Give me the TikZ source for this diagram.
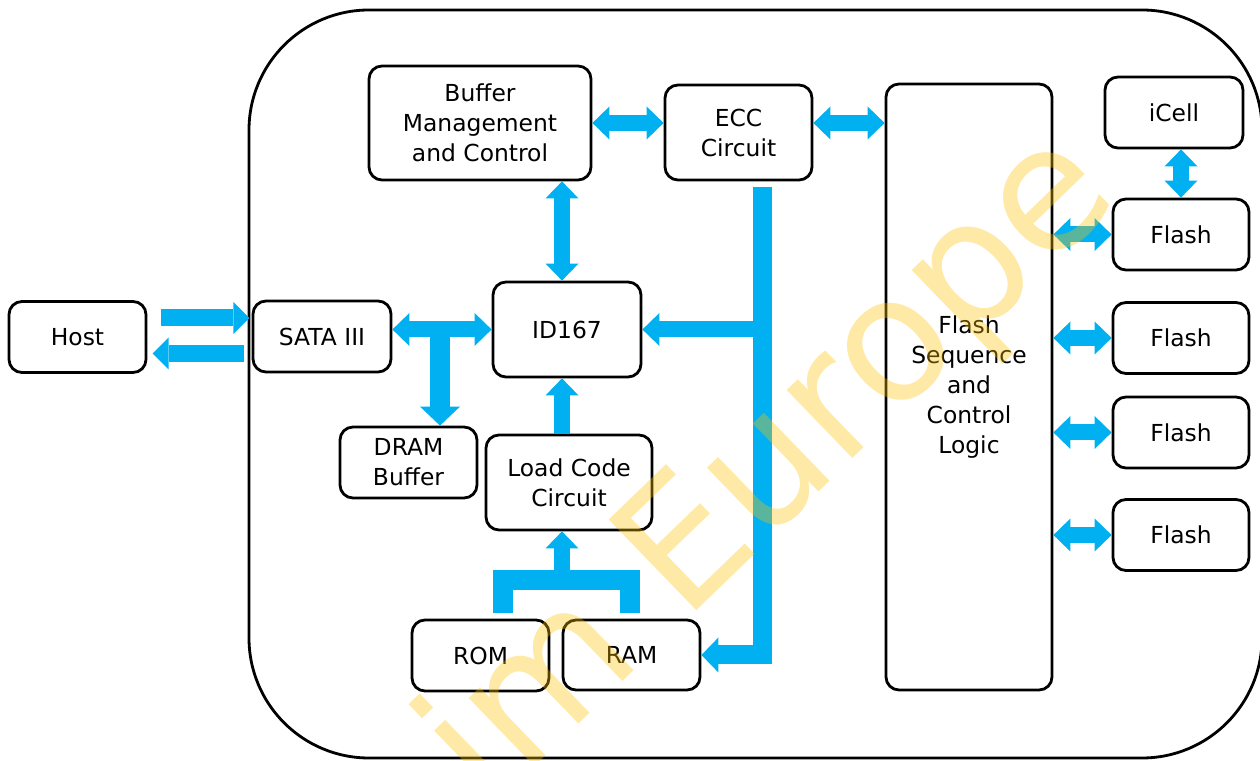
\documentclass[tikz,border=0pt]{standalone}
\usepackage{fontspec}
\setmainfont{DejaVu Sans}
\usetikzlibrary{positioning,arrows.meta}

\definecolor{busblue}{RGB}{0,176,240}
\definecolor{wmark}{RGB}{255,192,0}

\tikzset{
    blk/.style={draw, line width=2.8pt, rounded corners=13pt, align=center, inner sep=0pt},
    small/.style={blk, minimum width=137pt, minimum height=71pt},
    fat/.style={draw=busblue, line width=16pt},
}

\begin{document}
\begin{tikzpicture}[x=1pt, y=1pt, >={Triangle[length=17pt,width=33pt,line width=0pt]},
    font=\fontsize{23.4}{30}\selectfont]
    \useasboundingbox (0,0) rectangle (1260,760);
    \clip (0,0) rectangle (1260,760);

    % drive board
    \draw[line width=2.8pt, rounded corners=120pt] (249,2) rectangle (1262,750);

    \node[small] (host) at (77.5,423) {Host};
    \node[small, minimum width=138pt] (sata) at (322,423.5) {SATA III};
    \node[blk, minimum width=222pt, minimum height=114pt] (buf) at (480,637) {Buffer\\Management\\and Control};
    \node[blk, minimum width=147pt, minimum height=95pt] (ecc) at (738.5,627.5) {ECC\\Circuit};
    \node[blk, minimum width=166pt, minimum height=606pt] (fscl) at (969,373) {Flash\\Sequence\\and\\Control\\Logic};
    \node[small, minimum width=138pt] (icell) at (1174,647.5) {iCell};
    \node[blk, minimum width=148pt, minimum height=95pt] (id) at (567,430.5) {ID167};
    \node[small] (dram) at (408.5,297.5) {DRAM\\Buffer};
    \node[blk, minimum width=166pt, minimum height=95pt] (load) at (569,277.5) {Load Code\\Circuit};
    \node[small] (rom) at (480.5,104.5) {ROM};
    \node[small, minimum height=70pt] (ram) at (631.5,105) {RAM};

    % host link
    \draw[fat, line width=17pt, ->, >={Triangle[length=16pt,width=32pt,line width=0pt]}] ([xshift=14pt,yshift=19pt]host.east) -- ++(88,0);
    \draw[fat, line width=17pt, ->, >={Triangle[length=16pt,width=32pt,line width=0pt]}] ([xshift=-8pt,yshift=-17pt]sata.west) -- ++(-91,0);

    \draw[fat, <->] (id.west -| sata.east) -- (id.west);
    \coordinate (tee) at (440,425);
    \draw[fat, line width=20pt, -{Triangle[length=19pt,width=40pt,line width=0pt]}] (tee) -- (tee |- dram.north);

    \draw[fat, <->] ([xshift=-5pt]id.north |- buf.south) -- ([xshift=-5pt]id.north);
    \draw[fat, ->] ([xshift=-5pt]id.south |- load.north) -- ([xshift=-5pt]id.south);
    \draw[fat, <->] (buf.east) -- (buf.east -| ecc.west);
    \draw[fat, <->] (buf.east -| ecc.east) -- (buf.east -| fscl.west);

    % ECC bus
    \coordinate (bus) at ([xshift=23.5pt,yshift=-6pt]ecc.south);
    \draw[fat, line width=19pt, ->, >={Triangle[length=17pt,width=35pt,line width=0pt]}] (bus) |- (ram.east);
    \draw[fat, ->] (bus |- id.east) -- (id.east);

    % ROM/RAM fork
    \coordinate (fork) at (562,180);
    \draw[fat, line width=20pt] ([xshift=22.5pt,yshift=6pt]rom.north) |- (fork) -| ([xshift=-1.5pt,yshift=6pt]ram.north);
    \draw[fat, ->] (fork) -- (load.south -| fork);

    \foreach \n/\y in {1/525.5, 2/422, 3/327.5, 4/225} {
        \node[small, minimum width=136pt] (flash\n) at (1181,\y) {Flash};
        \draw[fat, <->] (flash\n.west -| fscl.east) -- (flash\n.west);
    }
    \draw[fat, <->] (flash1.north |- icell.south) -- (flash1.north);

    \node[text=wmark, opacity=0.35, rotate=44, anchor=base west, inner sep=0pt,
        font=\fontsize{173}{173}\selectfont] (mark) at (488.6,-50.7) {im Europe};
\end{tikzpicture}
\end{document}
